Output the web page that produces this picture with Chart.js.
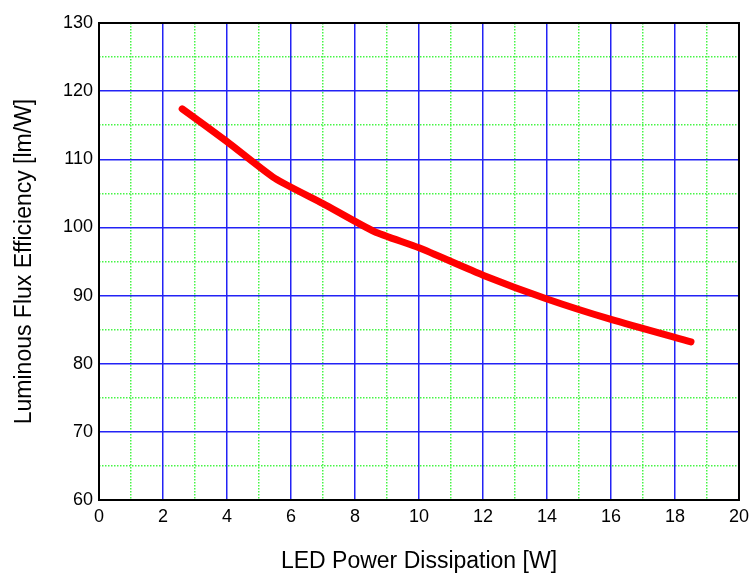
<!DOCTYPE html>
<html>
<head>
<meta charset="utf-8">
<script src="https://cdn.jsdelivr.net/npm/chart.js@4/dist/chart.umd.min.js"></script>
<style>
  html, body { margin: 0; padding: 0; background: #fff; }
  #wrap { width: 755px; height: 575px; }
</style>
</head>
<body>
<div id="wrap"><canvas id="fluxChart" width="755" height="575"></canvas></div>
<script>
// values
const powerW = [2.6, 4, 5.5, 7, 8.6, 10, 12, 14, 16, 18.5]
const efficiency = [117.4, 112.6, 107.2, 103.5, 99.4, 97.0, 93.0, 89.5, 86.5, 83.2]

const xRange = [0, 20]
const yRange = [60, 130]
const xTitle = 'LED Power Dissipation [W]'
const yTitle = 'Luminous Flux Efficiency [lm/W]'

const fontFamily = "'Liberation Sans', Arial, sans-serif"
const majorBlue = 'rgb(35,35,245)'
const minorGreen = 'rgb(70,245,70)'

// black frame round the plot area
const framePlugin = {
  id: 'frame',
  afterDraw(chart) {
    const { ctx, chartArea: a } = chart
    ctx.save()
    ctx.strokeStyle = '#000'
    ctx.lineWidth = 2
    ctx.strokeRect(a.left, a.top, a.right - a.left, a.bottom - a.top)
    ctx.restore()
  }
}

const minorColor = (step) => (c) => {
  const v = c.tick ? c.tick.value : 0
  return Math.abs(v % step) < 1e-6 ? 'rgba(0,0,0,0)' : minorGreen
}

const config = {
  type: 'line',
  data: {
    datasets: [{
      data: powerW.map((x, i) => ({ x: x, y: efficiency[i] })),
      borderColor: '#ff0000',
      borderWidth: 7,
      borderCapStyle: 'round',
      borderJoinStyle: 'round',
      pointRadius: 0,
      tension: 0.2,
      fill: false
    }]
  },
  options: {
    responsive: false,
    animation: false,
    layout: { padding: { left: 0, right: 12, top: 23, bottom: 0 } },
    plugins: { legend: { display: false }, tooltip: { enabled: false } },
    scales: {
      x2: {
        type: 'linear', position: 'top', min: xRange[0], max: xRange[1],
        ticks: { stepSize: 1, display: false },
        grid: { color: minorColor(2), lineWidth: 1.5, drawTicks: false },
        border: { display: false, dash: [1.5, 1.5] },
        afterFit: (s) => { s.height = 0 }
      },
      y2: {
        type: 'linear', position: 'right', min: yRange[0], max: yRange[1],
        ticks: { stepSize: 5, display: false },
        grid: { color: minorColor(10), lineWidth: 1.5, drawTicks: false },
        border: { display: false, dash: [1.5, 1.5] },
        afterFit: (s) => { s.width = 0 }
      },
      x: {
        type: 'linear', position: 'bottom', min: xRange[0], max: xRange[1],
        ticks: { stepSize: 2, color: '#000', padding: 6, font: { family: fontFamily, size: 18 } },
        grid: { color: majorBlue, lineWidth: 1.5, drawTicks: false },
        border: { display: false },
        title: { display: true, text: xTitle, color: '#000', padding: { top: 0, bottom: 0 },
                 font: { family: fontFamily, size: 23 } },
        afterFit: (s) => { s.height = 75 }
      },
      y: {
        type: 'linear', position: 'left', min: yRange[0], max: yRange[1],
        ticks: { stepSize: 10, color: '#000', padding: 6, font: { family: fontFamily, size: 18 } },
        grid: { color: majorBlue, lineWidth: 1.5, drawTicks: false },
        border: { display: false },
        title: { display: true, text: yTitle, color: '#000', padding: { top: 11, bottom: 0 },
                 font: { family: fontFamily, size: 23 } },
        afterFit: (s) => { s.width = 99 }
      }
    }
  },
  plugins: [framePlugin]
}

new Chart(document.getElementById('fluxChart'), config)
</script>
</body>
</html>
